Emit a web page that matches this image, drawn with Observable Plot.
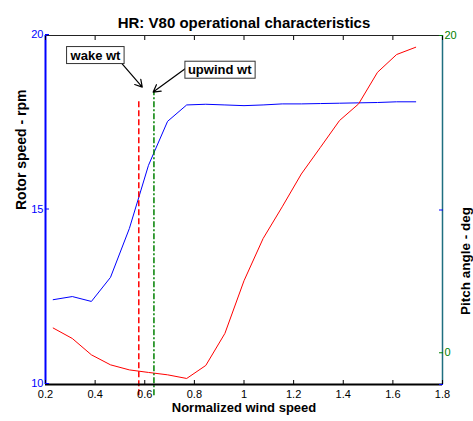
<!DOCTYPE html>
<html><head><meta charset="utf-8">
<script src="https://cdn.jsdelivr.net/npm/d3@7"></script>
<script src="https://cdn.jsdelivr.net/npm/@observablehq/plot@0.6"></script>
<style>
body{margin:0;background:#fff}
#chart svg{font-family:"Liberation Sans",Arial,sans-serif;overflow:visible}
</style>
</head><body><div id="chart"></div>
<script>
// normalized wind speed (3..22 m/s divided by rated 13 m/s)
const windSpeed = [0.231,0.308,0.385,0.462,0.538,0.615,0.692,0.769,0.846,0.923,1.0,1.077,1.154,1.231,1.308,1.385,1.462,1.538,1.615,1.692];
const rotorSpeed = [12.43,12.52,12.38,13.07,14.47,16.28,17.54,18.01,18.03,18.01,17.99,18.01,18.04,18.04,18.05,18.06,18.07,18.08,18.1,18.1];
const pitchAngle = [1.56,0.90,-0.13,-0.76,-1.08,-1.24,-1.39,-1.62,-0.80,1.22,4.54,7.2,9.2,11.27,12.95,14.64,15.69,17.68,18.8,19.26];
const xTicks = [0.2,0.4,0.6,0.8,1.0,1.2,1.4,1.6,1.8];
const rotorTicks = [10,15,20];
const pitchTicks = [0,20];
const xDomain = [0.2,1.8];
const rotorDomain = [10,20];
const pitchDomain = [-2,20];
const wakeMarker = {name:"wake wt", x:0.576, top:18.19};
const upwindMarker = {name:"upwind wt", x:0.637, top:18.37};
const markerBottom = 9.68;
const annotations = [
  {text:"wake wt", x:0.4015, y:19.43, x1:0.509, y1:19.19, x2:0.59, y2:18.52},
  {text:"upwind wt", x:0.902, y:19.01, x1:0.771, y1:19.09, x2:0.634, y2:18.38}
];
const title = "HR: V80 operational characteristics";
const xLabel = "Normalized wind speed";
const yLabelLeft = "Rotor speed - rpm";
const yLabelRight = "Pitch angle - deg";

// map pitch values onto the left (rotor) scale
const p2r = p => rotorDomain[0] + (p - pitchDomain[0]) / (pitchDomain[1] - pitchDomain[0]) * (rotorDomain[1] - rotorDomain[0]);
const r2p = r => pitchDomain[0] + (r - rotorDomain[0]) / (rotorDomain[1] - rotorDomain[0]) * (pitchDomain[1] - pitchDomain[0]);

const rotorData = windSpeed.map((x,i) => ({x, y: rotorSpeed[i]}));
const pitchData = windSpeed.map((x,i) => ({x, y: p2r(pitchAngle[i])}));
const fmt = d => String(+d.toFixed(1));
const RIGHT = "#1f6f80";

const chart = Plot.plot({
  width: 473, height: 421,
  marginLeft: 45, marginRight: 31, marginTop: 35, marginBottom: 37,
  x: {domain: xDomain},
  y: {domain: rotorDomain},
  style: {fontFamily: '"Liberation Sans", Arial, sans-serif', background: "#fff"},
  marks: [
    Plot.lineY(rotorData, {x:"x", y:"y", stroke:"#0000ff", strokeWidth:1}),
    Plot.lineY(pitchData, {x:"x", y:"y", stroke:"#ff0000", strokeWidth:1}),
    Plot.ruleX([wakeMarker], {x:"x", y1: markerBottom, y2:"top", stroke:"#ff0000", strokeWidth:1.5, strokeDasharray:"6,3"}),
    Plot.ruleX([upwindMarker], {x:"x", y1: markerBottom, y2:"top", stroke:"#008000", strokeWidth:1.5, strokeDasharray:"6,2,2,2"}),
    // frame lines
    Plot.ruleY([rotorDomain[1]], {stroke:"#222", strokeWidth:1.2}),
    Plot.ruleX([xDomain[1]], {stroke:RIGHT, strokeWidth:1.5}),
    Plot.ruleY([rotorDomain[0]], {stroke:"#000", strokeWidth:2}),
    Plot.ruleX([xDomain[0]], {stroke:"#0000ff", strokeWidth:2}),
    // bottom axis
    Plot.axisX({anchor:"bottom", ticks:xTicks, tickSize:-4, tickPadding:10, tickFormat:fmt, fontSize:11, color:"#000", label:null}),
    Plot.axisX({anchor:"top", ticks:xTicks, tickSize:-4, tickFormat:()=>"" , label:null, color:"#000"}),
    // left axis
    Plot.axisY({anchor:"left", ticks:rotorTicks, tickSize:-4, tickPadding:6, fontSize:11, color:"#0000ff", label:null, dy:-1}),
    Plot.axisY({anchor:"right", ticks:rotorTicks, tickSize:-4, tickFormat:()=>"", color:"#0000ff", label:null}),
    // right axis (pitch)
    Plot.axisY({anchor:"right", ticks:pitchTicks.map(p2r), tickSize:-4, tickPadding:6, tickFormat:d=>fmt(r2p(d)), fontSize:11, color:"#008000", label:null}),
    // annotations
    Plot.arrow(annotations, {x1:"x1", y1:"y1", x2:"x2", y2:"y2", stroke:"#000", strokeWidth:1.2, headLength:10}),
    Plot.text(annotations, {x:"x", y:"y", text:"text", fontSize:13, fontWeight:"bold", fill:"#000", className:"annot"}),
    // titles
    Plot.text([title], {text:d=>d, frameAnchor:"top", dy:-18, fontSize:15, fontWeight:"bold", fill:"#000"}),
    Plot.text([xLabel], {text:d=>d, frameAnchor:"bottom", dy:27, fontSize:13, fontWeight:"bold", fill:"#000"}),
    Plot.text([yLabelLeft], {text:d=>d, frameAnchor:"left", dx:-24, dy:0, rotate:-90, fontSize:14, fontWeight:"bold", fill:"#000"}),
    Plot.text([yLabelRight], {text:d=>d, frameAnchor:"right", dx:23, dy:-3, rotate:-90, fontSize:13.5, fontWeight:"bold", fill:"#000"})
  ]
});
document.getElementById("chart").appendChild(chart);
// boxes behind annotation labels
d3.select(chart).selectAll("g.annot text").each(function(){
  const b = this.getBBox();
  d3.select(this.parentNode).insert("rect", () => this)
    .attr("x", b.x - 3).attr("y", b.y - 1).attr("width", b.width + 6).attr("height", b.height + 2)
    .attr("fill", "#fff").attr("stroke", "#333").attr("stroke-width", 1)
    .attr("transform", this.getAttribute("transform"));
});
</script></body></html>
